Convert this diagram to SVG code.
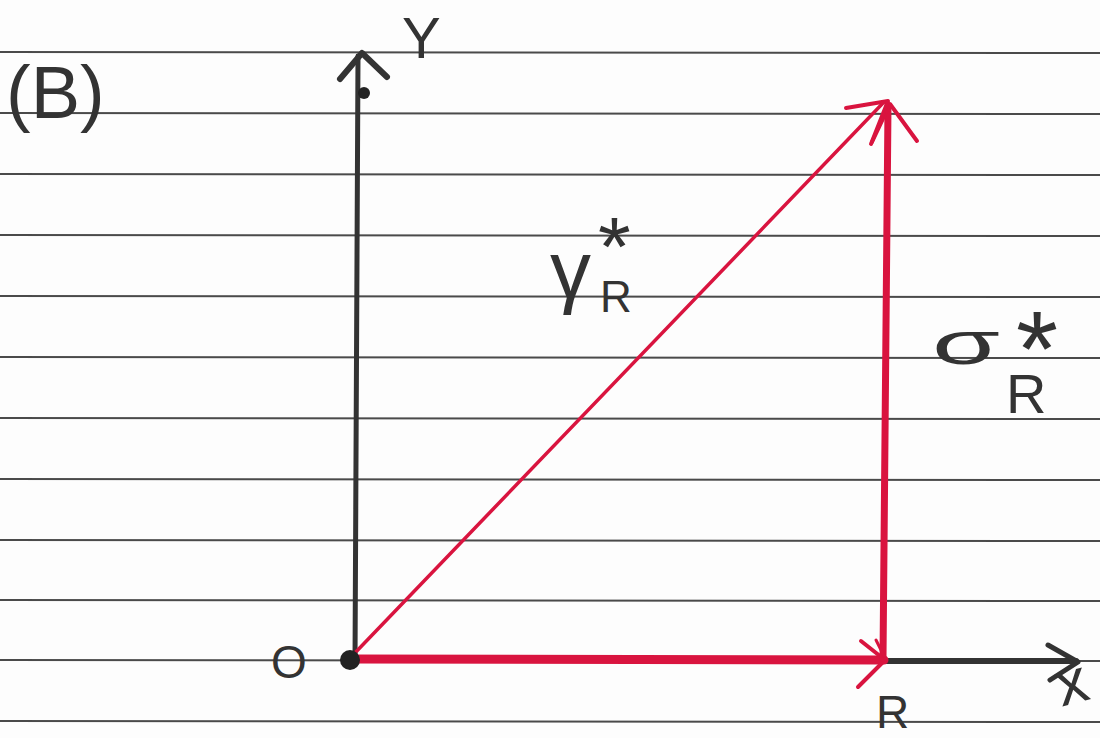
<svg xmlns="http://www.w3.org/2000/svg" width="1100" height="738" viewBox="0 0 1100 738">
<style>
.rule{stroke:#4a4a4a;stroke-width:2}
.ink{stroke:#333;fill:none;stroke-linecap:round;stroke-linejoin:round}
.red{stroke:#d9143f;fill:none;stroke-linecap:round;stroke-linejoin:round}
.lbl{font-family:"Liberation Sans",Arial,sans-serif;fill:#333}
</style>
<rect width="1100" height="738" fill="#fdfdfd"/>
<g id="paper">
<line class="rule" x1="0" y1="52" x2="1100" y2="53"/>
<line class="rule" x1="0" y1="113" x2="1100" y2="114"/>
<line class="rule" x1="0" y1="174" x2="1100" y2="175"/>
<line class="rule" x1="0" y1="235" x2="1100" y2="236"/>
<line class="rule" x1="0" y1="296" x2="1100" y2="297"/>
<line class="rule" x1="0" y1="357" x2="1100" y2="358"/>
<line class="rule" x1="0" y1="418" x2="1100" y2="419"/>
<line class="rule" x1="0" y1="479" x2="1100" y2="480"/>
<line class="rule" x1="0" y1="540" x2="1100" y2="541"/>
<line class="rule" x1="0" y1="600" x2="1100" y2="601"/>
<line class="rule" x1="0" y1="660" x2="1100" y2="661"/>
<line class="rule" x1="0" y1="721" x2="1100" y2="722"/>
</g>
<g id="connectors">
<g id="y-axis">
<line class="ink" x1="355" y1="662" x2="358" y2="56" stroke-width="5"/>
<polyline class="ink" points="340,79 362,53 387,77" stroke-width="6"/>
<circle cx="364" cy="93" r="6" fill="#222"/>
</g>
<g id="x-axis">
<line class="ink" x1="885" y1="661" x2="1076" y2="661" stroke-width="6"/>
<polyline class="ink" points="1048,645 1078,662 1050,680" stroke-width="5"/>
</g>
<g id="vec-horizontal">
<line class="red" x1="352" y1="659" x2="884" y2="660" stroke-width="9"/>
<polyline class="red" points="861,641 885,660 858,687" stroke-width="4"/>
</g>
<g id="vec-vertical">
<line class="red" x1="883" y1="658" x2="888" y2="106" stroke-width="7"/>
<polyline class="red" points="872,142 890,104 917,141" stroke-width="4"/>
<line class="red" x1="876" y1="640" x2="884" y2="656" stroke-width="3"/>
</g>
<g id="vec-diagonal">
<line class="red" x1="352" y1="656" x2="884" y2="102" stroke-width="3.5"/>
<polyline class="red" points="846,108 888,101 871,144" stroke-width="4"/>
</g>
<circle id="origin-dot" cx="350" cy="660" r="10" fill="#222"/>
</g>
<g id="label-B"><text class="lbl" x="6" y="118" font-size="74">(B)</text></g>
<g id="label-Y"><text class="lbl" x="402" y="58" font-size="58">Y</text></g>
<g id="label-O"><text class="lbl" x="271" y="678" font-size="46">O</text></g>
<g id="label-Rx"><text class="lbl" x="876" y="728" font-size="46">R</text></g>
<g id="label-x"><text class="lbl" x="1058" y="702" font-size="62" transform="rotate(-15 1078 690)">x</text></g>
<g id="label-gamma">
<text class="lbl" x="550" y="298" font-size="82">γ</text>
<text class="lbl" x="598" y="276" font-size="84">*</text>
<text class="lbl" x="600" y="312" font-size="44">R</text>
</g>
<g id="label-sigma">
<text class="lbl" x="932" y="364" font-size="62" textLength="68" lengthAdjust="spacingAndGlyphs">σ</text>
<text class="lbl" x="1016" y="386" font-size="108">*</text>
<text class="lbl" x="1006" y="413" font-size="56">R</text>
</g>
</svg>
